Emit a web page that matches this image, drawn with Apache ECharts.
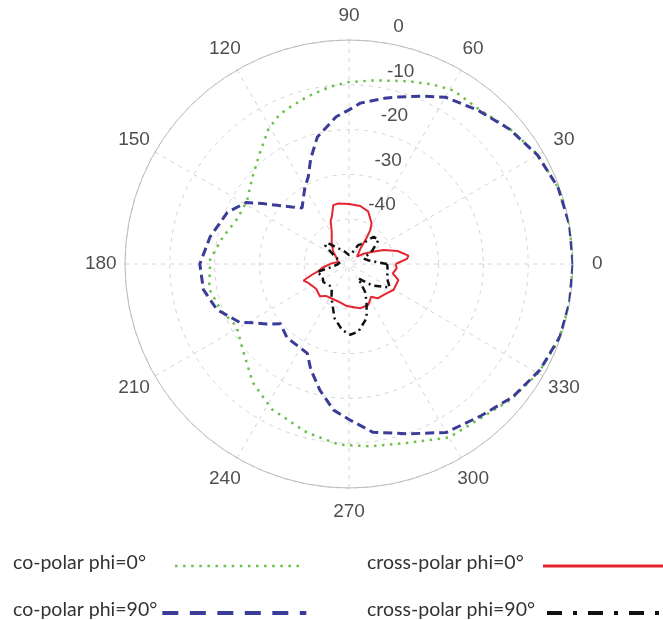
<!DOCTYPE html>
<html>
<head>
<meta charset="utf-8">
<script src="https://cdn.jsdelivr.net/npm/echarts@6/dist/echarts.min.js"></script>
<style>
html,body{margin:0;padding:0;background:#fff;}
#chart{width:663px;height:620px;}
</style>
</head>
<body>
<div id="chart"></div>
<script>
// ---------------- data ----------------
const angleTicks = [0, 30, 60, 90, 120, 150, 180, 210, 240, 270, 300, 330];
const radialTicks = [0, -10, -20, -30, -40];

const seriesNames = ['co-polar phi=0°', 'co-polar phi=90°', 'cross-polar phi=0°', 'cross-polar phi=90°'];

// co-polar phi=0 (green dotted)
const coPolar0Angles = [0, 10, 20, 30, 40, 50, 59, 65, 72, 82, 90, 96, 104, 110, 115, 121, 129, 138, 148, 158, 168, 178, 190, 200, 209, 219, 231, 242, 256, 267, 277, 288, 300, 310, 320, 330, 340, 350];
const coPolar0Values = [0, 0, -0.3, -1.3, -3.1, -4.9, -4.8, -5.8, -7.1, -8.6, -9.4, -10.2, -11.5, -12.5, -13.2, -15, -18.3, -21, -23.2, -23.1, -21.2, -19, -18.3, -19.6, -21.3, -19.5, -15.9, -13.3, -11.2, -9.6, -9, -8, -5.3, -4.8, -2.9, -1.25, -0.2, 0];

// co-polar phi=90 (blue dashed)
const coPolar90Angles = [0, 10, 20, 30, 40, 50, 60, 66, 74, 78, 86, 90, 95, 104, 110, 115, 120, 125, 130, 135, 140, 145, 149, 157, 169, 180, 190, 199, 208, 212, 216, 221, 230, 245, 250, 257, 264, 270, 278, 289, 300, 311, 321, 331, 341, 350];
const coPolar90Values = [0, 0, -0.3, -1.4, -3.2, -5.2, -7, -9, -11.2, -12.2, -14, -15.6, -17, -20.8, -25, -28.5, -30.3, -32.2, -33.7, -32, -29.7, -26.5, -23.3, -20.5, -18.4, -16.7, -17, -18.8, -22.3, -25.2, -27.2, -29.7, -28.5, -28, -25, -21.1, -17.2, -15.3, -12.1, -9.9, -6.6, -5.1, -2.9, -1.25, -0.2, 0];

// cross-polar phi=0 (red solid)
const crossPolar0Angles = [0, 5, 8, 15, 22, 27, 35, 43, 50, 54, 56, 58, 61, 70, 79, 90, 100, 105, 110, 113, 118, 121, 130, 142, 155, 170, 178, 188, 193, 196, 200, 205, 217, 228, 234, 254, 267, 284, 295, 299, 304, 310, 319, 330, 342, 348, 355];
const crossPolar0Values = [-39.6, -37, -36.6, -38.8, -41.7, -44, -46, -47.6, -46.5, -45.5, -43, -41, -39.6, -37.5, -36.8, -36.6, -36.3, -36.4, -38.8, -39.5, -41.8, -42.5, -44, -45.5, -47, -47.5, -46.1, -44, -43, -41.5, -39.2, -40, -40.8, -40.3, -41.2, -41.3, -40.6, -39.8, -39.9, -40.5, -41.2, -40, -39.6, -38.5, -38.4, -40, -39.3];

// cross-polar phi=90 (black dash-dot)
const crossPolar90Angles = [0, 10, 20, 30, 39, 48, 56, 64, 75, 90, 110, 124, 135, 142, 150, 165, 180, 190, 194, 205, 215, 233, 243, 255, 264, 271, 278, 288, 295, 300, 303, 317, 330, 340, 350];
const crossPolar90Values = [-41.5, -45.5, -46.5, -44, -41.5, -41.8, -44.5, -45.3, -47.5, -48, -47, -45.8, -43.5, -43.2, -46, -48, -47.6, -46, -42.6, -43.5, -43, -43.6, -41.4, -37.5, -35.2, -34.2, -34.8, -37.3, -40.7, -42.9, -46.2, -43, -39.5, -41, -41.2];

// ---------------- layout / style ----------------
const CENTER = [349, 264];
const RADIUS = 224;
const ANGLE_LABEL_R = 5.4;     // radius value (beyond 0) where angle labels sit
const RADIAL_LABEL_ANGLE = 82; // ray along which radial tick labels sit
const LEGEND_FONT = 'Lato';
const LEGEND_SIZE = 19.5;

const colors = ['#6cc04a', '#3a3d97', '#e52630', '#111111'];

function closed(angles, values) {
  const d = angles.map((a, i) => [values[i], a]);
  d.push([values[0], 360]);
  return d;
}

const ctx = document.createElement('canvas').getContext('2d');
function textWidth(t, size) {
  ctx.font = size + 'px ' + LEGEND_FONT;
  return ctx.measureText(t).width;
}

// legend layout: [left, top, iconStart, iconWidth]
const legendLayout = [
  [13, 553, 175, 124],
  [13, 600, 157, 144],
  [367, 553, 543, 130],
  [367, 600, 547, 125]
];
const legendLine = [
  { color: colors[0], width: 2.5, type: [2.5, 5.6] },
  { color: colors[1], width: 4, type: [16, 11.5] },
  { color: colors[2], width: 3, type: 'solid' },
  { color: colors[3], width: 4, type: [15, 11, 4, 11] }
];

const legends = seriesNames.map((name, i) => {
  const [left, top, iconStart, iconW] = legendLayout[i];
  const gap = iconStart - left - 5 - textWidth(name, LEGEND_SIZE);
  const fmt = '{t|' + name + '}' + (gap >= 1 ? '{g|}' : '');
  return {
    data: [name],
    left: left,
    top: top,
    padding: 0,
    orient: 'horizontal',
    align: 'right',
    itemWidth: iconW,
    itemHeight: 14,
    selectedMode: false,
    lineStyle: legendLine[i],
    itemStyle: { opacity: 0, color: 'rgba(0,0,0,0)', borderColor: 'rgba(0,0,0,0)', borderWidth: 0 },
    formatter: () => fmt,
    textStyle: {
      rich: {
        t: { fontFamily: LEGEND_FONT, fontSize: LEGEND_SIZE, color: '#333', padding: [0, 0, 6, 0] },
        g: { width: Math.max(1, gap) }
      }
    }
  };
});

const option = {
  animation: false,
  backgroundColor: '#fff',
  polar: { center: CENTER, radius: RADIUS },
  angleAxis: {
    type: 'value', min: 0, max: 360, interval: 30,
    startAngle: 0, clockwise: false,
    axisLine: { show: true, lineStyle: { color: '#bcbcbc', width: 1 } },
    axisTick: { show: false },
    axisLabel: { show: false },
    splitLine: { show: true, lineStyle: { color: '#d4d4d4', width: 1, type: [4, 5] } }
  },
  radiusAxis: {
    type: 'value', min: -50, max: 0, interval: 10,
    axisLine: { show: false },
    axisTick: { show: false },
    axisLabel: { show: false },
    splitLine: { show: true, lineStyle: { color: '#d4d4d4', width: 1, type: [4, 5] } }
  },
  legend: legends,
  series: [
    {
      name: seriesNames[0], type: 'line', coordinateSystem: 'polar', symbol: 'none',
      data: closed(coPolar0Angles, coPolar0Values),
      lineStyle: { color: colors[0], width: 2.5, type: [2.5, 5.5] }, itemStyle: { color: colors[0] }, z: 2
    },
    {
      name: seriesNames[1], type: 'line', coordinateSystem: 'polar', symbol: 'none',
      data: closed(coPolar90Angles, coPolar90Values),
      lineStyle: { color: colors[1], width: 3, type: [9, 5] }, itemStyle: { color: colors[1] }, z: 3
    },
    {
      name: seriesNames[2], type: 'line', coordinateSystem: 'polar', symbol: 'none',
      data: closed(crossPolar0Angles, crossPolar0Values),
      lineStyle: { color: colors[2], width: 2, type: 'solid' }, itemStyle: { color: colors[2] }, z: 4
    },
    {
      name: seriesNames[3], type: 'line', coordinateSystem: 'polar', symbol: 'none',
      data: closed(crossPolar90Angles, crossPolar90Values),
      lineStyle: { color: colors[3], width: 2.5, type: [7, 4, 2, 4] }, itemStyle: { color: colors[3] }, z: 5
    },
    {
      type: 'scatter', coordinateSystem: 'polar', clip: false, silent: true,
      symbol: 'circle', symbolSize: 1, itemStyle: { color: 'rgba(0,0,0,0)' },
      data: angleTicks.map(a => [ANGLE_LABEL_R, a]),
      label: {
        show: true, position: 'inside',
        formatter: p => String(p.value[1]),
        fontFamily: 'Liberation Sans', fontSize: 19, color: '#222'
      },
      z: 6
    },
    {
      type: 'scatter', coordinateSystem: 'polar', clip: false, silent: true,
      symbol: 'circle', symbolSize: 1, itemStyle: { color: 'rgba(0,0,0,0)' },
      data: radialTicks.map(v => [v, RADIAL_LABEL_ANGLE]),
      label: {
        show: true, position: 'inside', align: 'left', verticalAlign: 'middle',
        offset: [13, -15],
        formatter: p => String(p.value[0]),
        fontFamily: 'Liberation Sans', fontSize: 19, color: '#222'
      },
      z: 6
    }
  ]
};

const chart = echarts.init(document.getElementById('chart'), null, { renderer: 'canvas' });
chart.setOption(option);
</script>
</body>
</html>
